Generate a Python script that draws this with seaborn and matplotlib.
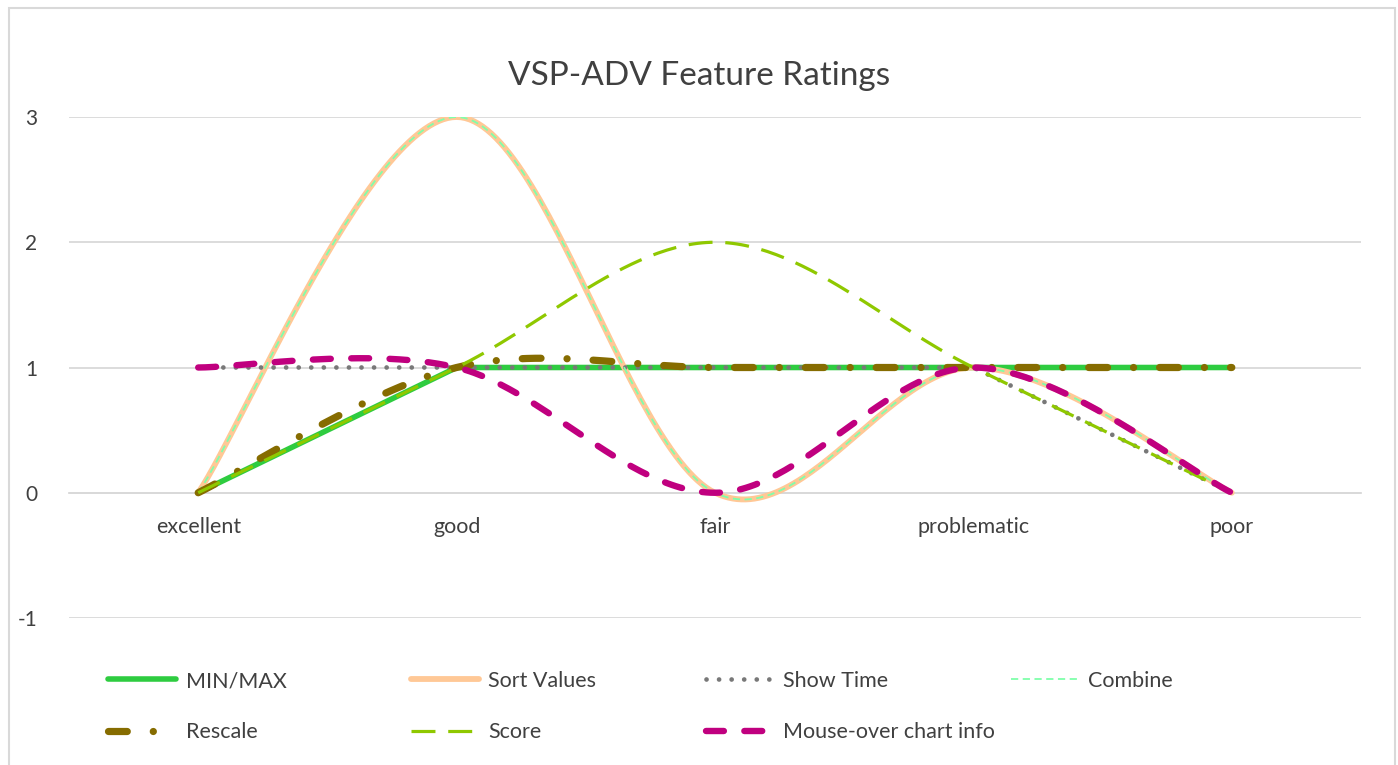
import numpy as np
import pandas as pd
import matplotlib
matplotlib.use("Agg")
import matplotlib.pyplot as plt
import seaborn as sns
from matplotlib.lines import Line2D
from matplotlib.patches import Rectangle

categories = ["excellent", "good", "fair", "problematic", "poor"]
min_max = [0, 1, 1, 1, 1]
sort_values = [0, 3, 0, 1, 0]
show_time = [1, 1, 1, 1, 0]
combine = [0, 3, 0, 1, 0]
rescale = [0, 1, 1, 1, 1]
score = [0, 1, 2, 1, 0]
mouse_over = [1, 1, 0, 1, 0]
y_ticks = [-1, 0, 1, 2, 3]
title = "VSP-ADV Feature Ratings"

sns.set_theme(style="white")
FONT = ["Lato", "DejaVu Sans"]
plt.rcParams["font.family"] = FONT
TXT = "#404040"


def excel_smooth(vals, n=60):
    pts = np.column_stack([np.arange(len(vals), dtype=float), np.asarray(vals, dtype=float)])
    xs, ys = [], []
    for i in range(len(pts) - 1):
        p0 = pts[i - 1] if i > 0 else pts[i]
        p1 = pts[i]
        p2 = pts[i + 1]
        p3 = pts[i + 2] if i + 2 < len(pts) else pts[i + 1]
        c1 = p1 + (p2 - p0) / 6.0
        c2 = p2 - (p3 - p1) / 6.0
        t = np.linspace(0, 1, n)[:, None]
        b = ((1 - t) ** 3) * p1 + 3 * ((1 - t) ** 2) * t * c1 + 3 * (1 - t) * t ** 2 * c2 + t ** 3 * p2
        if i > 0:
            b = b[1:]
        xs.extend(b[:, 0]); ys.extend(b[:, 1])
    return np.array(xs), np.array(ys)


fig = plt.figure(figsize=(13.98, 7.65), dpi=100)
W, H = 1398, 765
ax = fig.add_axes([69 / W, 1 - 618 / H, (1361 - 69) / W, (618 - 117) / H])

styles = [
    ("MIN/MAX", min_max, False, dict(color="#2ECC40", lw=4.0, ls="-", solid_capstyle="round")),
    ("Sort Values", sort_values, True, dict(color="#FFC896", lw=4.2, ls="-", solid_capstyle="round")),
    ("Show Time", show_time, False, dict(color="#787878", lw=3.4, ls=(0, (0.01, 2.65)), dash_capstyle="round")),
    ("Combine", combine, True, dict(color="#7FFFAA", lw=1.3, ls=(0, (4, 2.5)))),
    ("Rescale", rescale, True, dict(color="#866C00", lw=5.2, ls=(0, (2.6, 3.6, 0.01, 3.6)), dash_capstyle="round")),
    ("Score", score, True, dict(color="#8FC800", lw=2.3, ls=(0, (7.5, 4.0)))),
    ("Mouse-over chart info", mouse_over, True, dict(color="#C0007F", lw=4.6, ls=(0, (2.8, 3.2)), dash_capstyle="round")),
]

for z, (name, vals, smooth, st) in enumerate(styles):
    if smooth:
        xs, ys = excel_smooth(vals)
    else:
        xs, ys = np.arange(len(vals), dtype=float), np.asarray(vals, dtype=float)
    df = pd.DataFrame({"x": xs, "y": ys})
    sns.lineplot(data=df, x="x", y="y", sort=False, estimator=None, ax=ax,
                 color=st["color"], linewidth=st["lw"], zorder=3 + z)
    line = ax.lines[-1]
    line.set_linestyle(st["ls"])
    if "dash_capstyle" in st:
        line.set_dash_capstyle(st["dash_capstyle"])
    if "solid_capstyle" in st:
        line.set_solid_capstyle(st["solid_capstyle"])

ax.set_xlim(-0.5, len(categories) - 0.5)
ax.set_ylim(min(y_ticks), max(y_ticks))
ax.set_yticks(y_ticks)
ax.set_yticklabels([str(v) for v in y_ticks])
ax.set_xticks(range(len(categories)))
ax.set_xticklabels(categories)
ax.set_xlabel("")
ax.set_ylabel("")
for s in ["top", "right", "left"]:
    ax.spines[s].set_visible(False)
ax.spines["bottom"].set_position(("data", 0))
ax.spines["bottom"].set_color("#D9D9D9")
ax.spines["bottom"].set_linewidth(1.3)
ax.spines["bottom"].set_zorder(1)
ax.grid(axis="y", color="#D9D9D9", lw=1.3, zorder=0)
ax.grid(axis="x", visible=False)
ax.set_axisbelow(True)
ax.tick_params(axis="y", length=0, pad=23, labelsize=15, labelcolor=TXT)
ax.tick_params(axis="x", length=0, pad=17.5, labelsize=15.5, labelcolor=TXT)

fig.text(0.5, 1 - 76 / H, title, ha="center", va="center", fontsize=24, color=TXT)

# chart border
fig.patches.append(Rectangle((9 / W, -0.01), (1395 - 9) / W, 1.01 - 8 / H, transform=fig.transFigure,
                             fill=False, edgecolor="#D9D9D9", lw=1.5))

handles = {}
for name, vals, smooth, st in styles:
    h = Line2D([], [], color=st["color"], lw=st["lw"], ls=st["ls"])
    if "dash_capstyle" in st:
        h.set_dash_capstyle(st["dash_capstyle"])
    handles[name] = h

columns = [["MIN/MAX", "Rescale"], ["Sort Values", "Score"], ["Show Time", "Mouse-over chart info"], ["Combine"]]
xs_leg = [108, 411, 706, 1011]
for col, xl in zip(columns, xs_leg):
    leg = fig.legend([handles[n] for n in col], col, loc="upper left",
                     bbox_to_anchor=(xl / W, 1 - 671 / H), frameon=False,
                     fontsize=15.5, handlelength=3.15, handletextpad=0.45,
                     labelspacing=1.45, borderpad=0, borderaxespad=0)
    for t in leg.get_texts():
        t.set_color(TXT)

fig.savefig("out.png", dpi=100)
